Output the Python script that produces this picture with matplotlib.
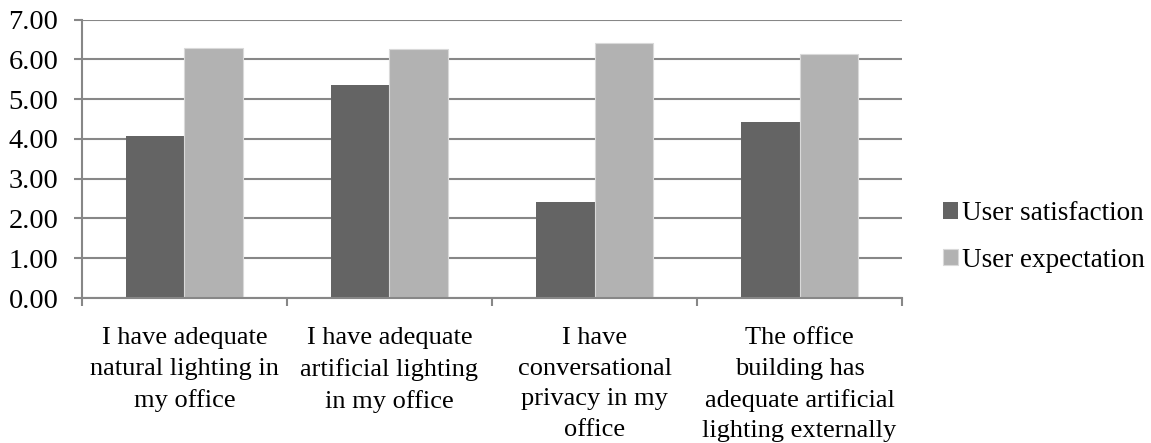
import matplotlib
matplotlib.use('Agg')
import matplotlib.pyplot as plt
import numpy as np

categories = [
    "I have adequate\nnatural lighting in\nmy office",
    "I have adequate\nartificial lighting\nin my office",
    "I have\nconversational\nprivacy in my\noffice",
    "The office\nbuilding has\nadequate artificial\nlighting externally",
]
satisfaction = [4.07, 5.35, 2.42, 4.42]
expectation = [6.30, 6.27, 6.42, 6.14]
yticks = [0, 1, 2, 3, 4, 5, 6, 7]

plt.rcParams['font.family'] = ['Liberation Serif', 'DejaVu Serif']

fig = plt.figure(figsize=(11.51, 4.43), dpi=100)
ax = fig.add_axes([0.0712, 0.3273, 0.7125, 0.6282])

x = np.arange(len(categories))
w = 0.284
grid_col = '#878787'

ax.bar(x - w / 2, satisfaction, w, color='#646464', label='User satisfaction', zorder=3)
ax.bar(x + w / 2, expectation, w, color='#b2b2b2', edgecolor='#d9d9d9', linewidth=0.8,
       label='User expectation', zorder=3)

ax.set_xlim(-0.5, len(categories) - 0.5)
ax.set_ylim(0, 7)
ax.set_yticks(yticks)
ax.set_yticklabels([f"{v:.2f}" for v in yticks], fontsize=20.5)
ax.yaxis.grid(True, color=grid_col, linewidth=1.5, zorder=0)

# category labels centred, ticks on boundaries
ax.set_xticks(x)
ax.set_xticklabels(categories, fontsize=19, linespacing=1.5)
ax.tick_params(axis='x', length=0, pad=21)
ax.set_xticks(np.arange(-0.5, len(categories)), minor=True)
ax.tick_params(axis='x', which='minor', length=6, width=1.5, color=grid_col)
ax.tick_params(axis='y', length=6, width=1.5, color=grid_col, pad=11)

for s in ['top', 'right']:
    ax.spines[s].set_visible(False)
for s in ['left', 'bottom']:
    ax.spines[s].set_color(grid_col)
    ax.spines[s].set_linewidth(1.5)
ax.spines['bottom'].set_zorder(4)

ax.legend(loc='center left', bbox_to_anchor=(1.05, 0.22), frameon=False, fontsize=19.5,
          handlelength=0.55, handleheight=0.55, handletextpad=0.15, labelspacing=0.8,
          borderpad=0, borderaxespad=0)

plt.savefig('out.png', dpi=100)
